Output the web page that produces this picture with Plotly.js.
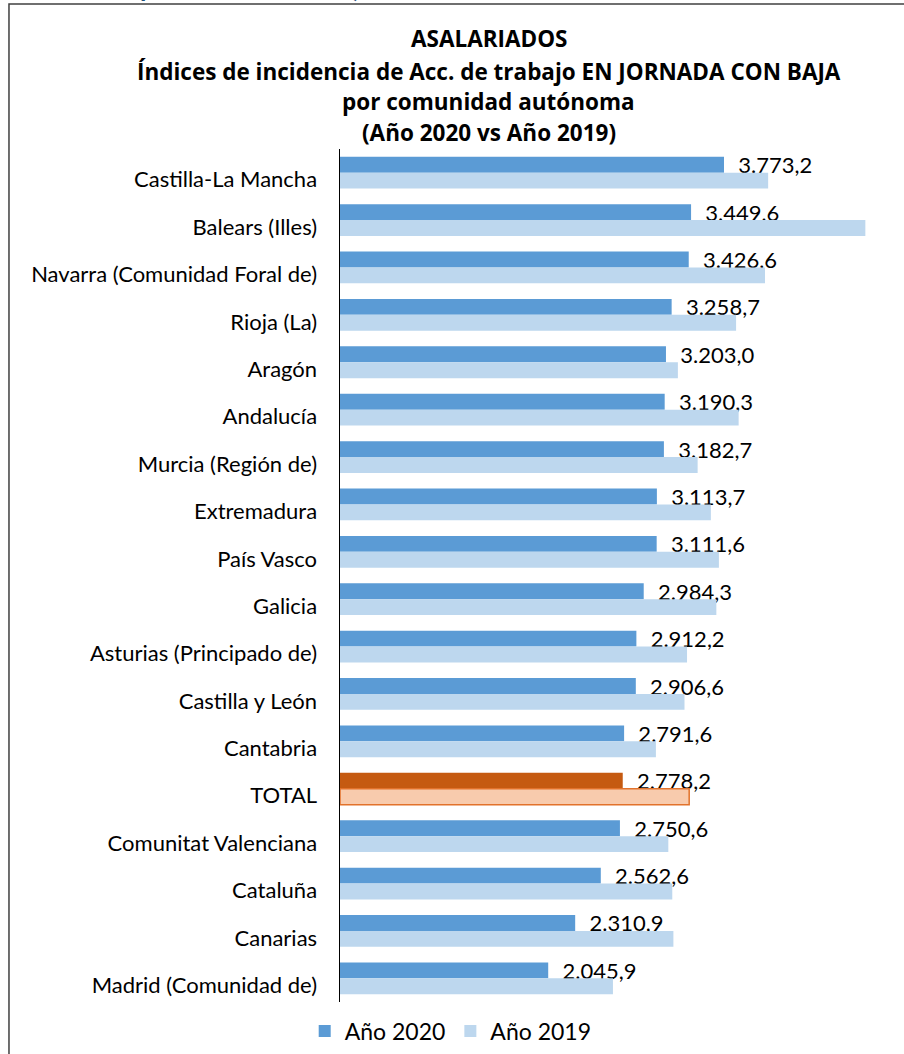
<!DOCTYPE html>
<html>
<head>
<meta charset="utf-8">
<script src="https://cdn.plot.ly/plotly-3.0.1.min.js"></script>
<style>html,body{margin:0;padding:0;background:#fff;}#chart{width:904px;height:1054px;}</style>
</head>
<body>
<div id="chart"></div>
<script>
const categories = ["Castilla-La Mancha","Balears (Illes)","Navarra (Comunidad Foral de)","Rioja (La)","Aragón","Andalucía","Murcia (Región de)","Extremadura","País Vasco","Galicia","Asturias (Principado de)","Castilla y León","Cantabria","TOTAL","Comunitat Valenciana","Cataluña","Canarias","Madrid (Comunidad de)"];
const values2020 = [3773.2,3449.6,3426.6,3258.7,3203.0,3190.3,3182.7,3113.7,3111.6,2984.3,2912.2,2906.6,2791.6,2778.2,2750.6,2562.6,2310.9,2045.9];
const values2019 = [4207,5162,4176,3892,3320,3917,3514,3644,3723,3698,3410,3385,3104,3431,3226,3265,3276,2682];
const seriesNames = ["Año 2020","Año 2019"];
const titleLines = ["ASALARIADOS","Índices de incidencia de Acc. de trabajo EN JORNADA CON BAJA","por comunidad autónoma","(Año 2020 vs Año 2019)"];

const FONT = 'Lato, "Open Sans", sans-serif';
const TFONT = '"Open Sans", Lato, sans-serif';
const isTotal = categories.map(c => c === "TOTAL");

const t2020 = {
  type: 'bar', orientation: 'h', name: seriesNames[0],
  y: categories, x: values2020,
  marker: { color: isTotal.map(t => t ? '#C55A11' : '#5B9BD5'), line: { width: 0 } },
  texttemplate: '\u00a0\u00a0%{x:,.1f}',
  textposition: 'outside', cliponaxis: false, constraintext: 'none',
  textfont: { family: FONT, size: 22, color: '#000' },
  hoverinfo: 'skip'
};
const t2019 = {
  type: 'bar', orientation: 'h', name: seriesNames[1],
  y: categories, x: values2019,
  marker: { color: isTotal.map(t => t ? '#F8CBAD' : '#BDD7EE'),
            line: { width: isTotal.map(t => t ? 1.5 : 0), color: '#E2722B' } },
  hoverinfo: 'skip'
};

const titleY = [1.1298, 1.0911, 1.0551, 1.0199];
const annotations = titleLines.map((s, i) => ({
  text: '<b>' + s + '</b>', xref: 'paper', yref: 'paper', x: 0.275, y: titleY[i],
  xanchor: 'center', yanchor: 'middle', showarrow: false,
  font: { family: TFONT, size: 22.5, color: '#000' }
}));
annotations.push({ text: '<b>p</b>', xref: 'paper', yref: 'paper', x: -0.357, y: 1.1688,
  xanchor: 'center', yanchor: 'bottom', showarrow: false, font: { family: FONT, size: 26, color: '#1F4E79' } });
annotations.push({ text: '<b>)</b>', xref: 'paper', yref: 'paper', x: 0.031, y: 1.1688,
  xanchor: 'center', yanchor: 'bottom', showarrow: false, font: { family: FONT, size: 26, color: '#1F4E79' } });

const layout = {
  width: 904, height: 1054,
  margin: { l: 340, r: 24, t: 149, b: 52, autoexpand: false },
  paper_bgcolor: '#fff', plot_bgcolor: '#fff',
  separators: ',.',
  barmode: 'group', bargap: 0.33, bargroupgap: 0,
  showlegend: true,
  legend: { orientation: 'h', x: 0.205, xanchor: 'center', yref: 'container', y: 0.0218, yanchor: 'middle',
            font: { family: FONT, size: 23, color: '#000' }, itemwidth: 30, traceorder: 'normal' },
  xaxis: { range: [0, 5306], showgrid: false, zeroline: false, showticklabels: false, showline: false, ticks: '', fixedrange: true },
  yaxis: { type: 'category', autorange: 'reversed', showgrid: false, zeroline: false,
           showline: true, linecolor: '#000', linewidth: 1.5, ticks: '',
           tickfont: { family: FONT, size: 22, color: '#000' },
           ticklabelstandoff: 17, ticklabelshift: -7, fixedrange: true },
  annotations: annotations,
  shapes: [{ type: 'rect', xref: 'paper', yref: 'paper', x0: -0.613, x1: 1.3, y0: -0.3, y1: 1.170,
             line: { color: '#404040', width: 1.5 }, fillcolor: 'rgba(0,0,0,0)', layer: 'below' }],
  font: { family: FONT }
};

Plotly.newPlot('chart', [t2020, t2019], layout, { displayModeBar: false, staticPlot: true });
</script>
</body>
</html>
